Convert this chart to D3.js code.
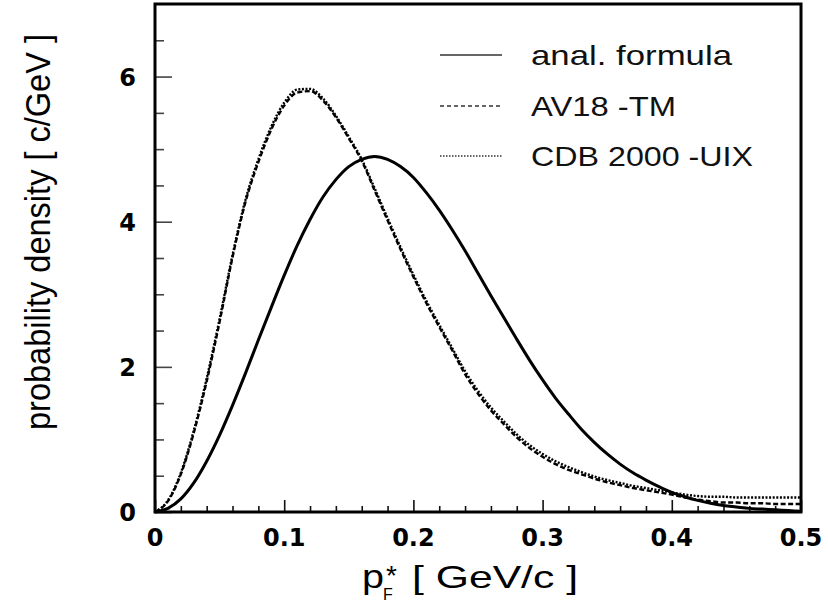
<!DOCTYPE html>
<html>
<head>
<meta charset="utf-8">
<script src="https://cdn.jsdelivr.net/npm/d3@7"></script>
<style>
  html, body { margin: 0; padding: 0; background: #fff; }
  svg { display: block; }
</style>
</head>
<body>
<svg id="chart" width="828" height="602"></svg>
<script>
// ---- data ----
const pF = [0.00,0.01,0.02,0.03,0.04,0.05,0.06,0.07,0.08,0.09,
            0.10,0.11,0.12,0.13,0.14,0.15,0.16,0.17,0.18,0.19,
            0.20,0.21,0.22,0.23,0.24,0.25,0.26,0.27,0.28,0.29,
            0.30,0.31,0.32,0.33,0.34,0.35,0.36,0.37,0.38,0.39,
            0.40,0.41,0.42,0.43,0.44,0.45,0.46,0.47,0.48,0.49,0.50];

const analFormula = [0, 0.05, 0.18, 0.40, 0.70, 1.06, 1.47, 1.91, 2.37, 2.82,
                     3.26, 3.67, 4.03, 4.34, 4.58, 4.76, 4.86, 4.90, 4.86, 4.76,
                     4.61, 4.40, 4.16, 3.89, 3.60, 3.29, 2.98, 2.68, 2.38, 2.09,
                     1.82, 1.57, 1.35, 1.14, 0.96, 0.80, 0.66, 0.54, 0.44, 0.35,
                     0.27, 0.21, 0.16, 0.12, 0.09, 0.07, 0.05, 0.04, 0.03, 0.02, 0.01];

const av18TM = [0, 0.15, 0.52, 1.09, 1.80, 2.62, 3.51, 4.27, 4.82, 5.27,
                5.60, 5.78, 5.80, 5.67, 5.44, 5.15, 4.84, 4.43, 4.02, 3.62,
                3.24, 2.88, 2.55, 2.23, 1.90, 1.63, 1.40, 1.21, 1.03, 0.88,
                0.76, 0.66, 0.58, 0.52, 0.46, 0.41, 0.37, 0.33, 0.30, 0.27,
                0.24, 0.20, 0.17, 0.15, 0.13, 0.13, 0.12, 0.12, 0.11, 0.11, 0.11];

const cdb2000UIX = [0, 0.16, 0.54, 1.12, 1.84, 2.66, 3.54, 4.30, 4.86, 5.31,
                    5.64, 5.82, 5.83, 5.70, 5.46, 5.17, 4.86, 4.46, 4.05, 3.65,
                    3.27, 2.91, 2.58, 2.26, 1.94, 1.67, 1.44, 1.25, 1.07, 0.92,
                    0.80, 0.70, 0.62, 0.55, 0.49, 0.44, 0.40, 0.36, 0.33, 0.30,
                    0.27, 0.24, 0.22, 0.21, 0.21, 0.20, 0.20, 0.20, 0.20, 0.20, 0.20];

const seriesNames = ["anal. formula", "AV18 -TM", "CDB 2000 -UIX"];
const xTickValues = [0, 0.1, 0.2, 0.3, 0.4, 0.5];
const xTickLabels = ["0", "0.1", "0.2", "0.3", "0.4", "0.5"];
const yTickValues = [0, 2, 4, 6];
const yTickLabels = ["0", "2", "4", "6"];
const xMinorTicks = [0.02,0.04,0.06,0.08,0.12,0.14,0.16,0.18,0.22,0.24,0.26,0.28,
                     0.32,0.34,0.36,0.38,0.42,0.44,0.46,0.48];
const yMinorTicks = [0.5,1,1.5,2.5,3,3.5,4.5,5,5.5,6.5];

// ---- layout ----
const svg = d3.select("#chart");
const L = 155, R = 801, T = 4, B = 512;
const x = d3.scaleLinear().domain([0, 0.5]).range([L, R]);
const y = d3.scaleLinear().domain([0, 7]).range([B, T]);

// axes (ticks pointing inward)
const xMajor = d3.axisBottom(x).tickValues(xTickValues).tickSize(-12).tickFormat("");
const xMinor = d3.axisBottom(x).tickValues(xMinorTicks).tickSize(-6).tickFormat("");
const yMajor = d3.axisLeft(y).tickValues(yTickValues).tickSize(-17).tickFormat("");
const yMinor = d3.axisLeft(y).tickValues(yMinorTicks).tickSize(-9).tickFormat("");

function styleAxis(g, col, w) {
  g.select(".domain").remove();
  g.selectAll(".tick line").attr("stroke", col).attr("stroke-width", w);
}
svg.append("g").attr("transform", `translate(0,${B})`).call(xMajor).call(styleAxis, "#111", 1.6);
svg.append("g").attr("transform", `translate(0,${B})`).call(xMinor).call(styleAxis, "#111", 1.6);
svg.append("g").attr("transform", `translate(${L},0)`).call(yMajor).call(styleAxis, "#444", 1.6);
svg.append("g").attr("transform", `translate(${L},0)`).call(yMinor).call(styleAxis, "#444", 1.6);

// tick labels
svg.append("g").selectAll("text").data(xTickValues).join("text")
  .attr("x", d => x(d)).attr("y", 546)
  .attr("text-anchor", "middle")
  .attr("font-family", "DejaVu Sans").attr("font-weight", "bold").attr("font-size", 24)
  .text((d, i) => xTickLabels[i]);

svg.append("g").selectAll("text").data(yTickValues).join("text")
  .attr("x", 136).attr("y", d => y(d) + 9)
  .attr("text-anchor", "end")
  .attr("font-family", "DejaVu Sans").attr("font-weight", "bold").attr("font-size", 24)
  .text((d, i) => yTickLabels[i]);

// curves
const line = vals => d3.line()
  .x((d, i) => x(pF[i]))
  .y(d => y(d))
  .curve(d3.curveMonotoneX)(vals);

svg.append("path").attr("d", line(cdb2000UIX))
  .attr("fill", "none").attr("stroke", "#000").attr("stroke-width", 2.4)
  .attr("stroke-dasharray", "2,1.6");
svg.append("path").attr("d", line(av18TM))
  .attr("fill", "none").attr("stroke", "#000").attr("stroke-width", 2.4)
  .attr("stroke-dasharray", "5,2.5");
svg.append("path").attr("d", line(analFormula))
  .attr("fill", "none").attr("stroke", "#000").attr("stroke-width", 3);

// frame
svg.append("rect").attr("x", L).attr("y", T).attr("width", R - L).attr("height", B - T)
  .attr("fill", "none").attr("stroke", "#000").attr("stroke-width", 3);

// legend
const legY = [55, 106, 156];
const legDash = [null, "4,3", "1.5,1.5"];
const legTextLen = [201, 145, 222];
const leg = svg.append("g");
seriesNames.forEach((name, i) => {
  leg.append("line").attr("x1", 440).attr("x2", 502).attr("y1", legY[i]).attr("y2", legY[i])
    .attr("stroke", "#333").attr("stroke-width", 1.3)
    .attr("stroke-dasharray", legDash[i]);
  leg.append("text").attr("x", 531).attr("y", legY[i] + 10)
    .attr("font-family", "Liberation Sans, Arial, sans-serif").attr("font-size", 28)
    .attr("textLength", legTextLen[i]).attr("lengthAdjust", "spacingAndGlyphs")
    .attr("fill", "#111")
    .text(name);
});

// y-axis title
svg.append("text")
  .attr("transform", "translate(50,232) rotate(-90)")
  .attr("text-anchor", "middle")
  .attr("font-family", "Liberation Sans, Arial, sans-serif").attr("font-size", 35)
  .attr("textLength", 396).attr("lengthAdjust", "spacingAndGlyphs")
  .text("probability density [ c/GeV ]");

// x-axis title: p*_F [ GeV/c ]
const xt = svg.append("g").attr("font-family", "Liberation Sans, Arial, sans-serif");
xt.append("text").attr("x", 362).attr("y", 588).attr("font-size", 34)
  .attr("textLength", 22).attr("lengthAdjust", "spacingAndGlyphs").text("p");
xt.append("text").attr("x", 386).attr("y", 585).attr("font-size", 28).text("*");
xt.append("text").attr("x", 383).attr("y", 600).attr("font-size", 16).text("F");
xt.append("text").attr("x", 412).attr("y", 588).attr("font-size", 32)
  .attr("textLength", 166).attr("lengthAdjust", "spacingAndGlyphs").text("[ GeV/c ]");
</script>
</body>
</html>
